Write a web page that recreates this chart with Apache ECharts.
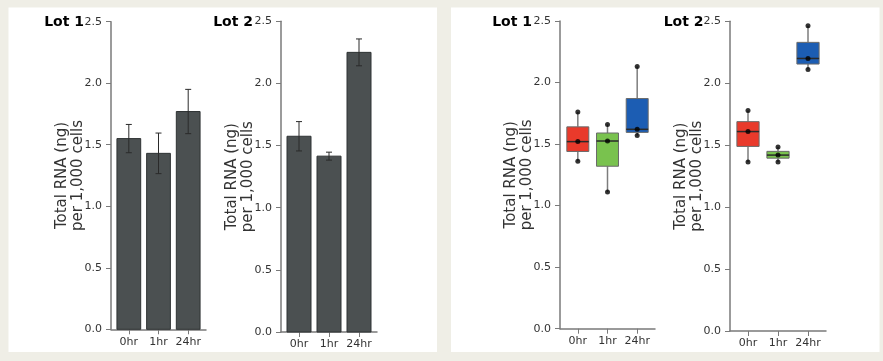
<!DOCTYPE html>
<html>
<head>
<meta charset="utf-8">
<script src="https://cdn.jsdelivr.net/npm/echarts@6/dist/echarts.min.js"></script>
<style>
html,body{margin:0;padding:0;background:#efeee6;}
#c{width:883px;height:361px;}
</style>
</head>
<body>
<div id="c"></div>
<script>
// ---- data ----
const categories = ['0hr', '1hr', '24hr'];
const lot1Mean = [1.55, 1.43, 1.77];
const lot1Err = [0.115, 0.165, 0.18];
const lot2Mean = [1.575, 1.415, 2.25];
const lot2Err = [0.118, 0.032, 0.108];
// box: [min, q1, median, q3, max]
const lot1Box = [[1.36, 1.44, 1.52, 1.64, 1.76], [1.11, 1.32, 1.525, 1.59, 1.66], [1.57, 1.595, 1.62, 1.87, 2.13]];
const lot2Box = [[1.365, 1.49, 1.61, 1.69, 1.78], [1.365, 1.395, 1.42, 1.45, 1.485], [2.11, 2.155, 2.20, 2.33, 2.465]];
const yTicks = [0, 0.5, 1.0, 1.5, 2.0, 2.5];
const titles = ['Lot 1', 'Lot 2', 'Lot 1', 'Lot 2'];
const yName = 'Total RNA (ng)\nper 1,000 cells';

// ---- styles ----
const boxColors = ['#e93a2b', '#79c24e', '#1c5db3'];
const FONT = 'DejaVu Sans';
const grids = [
  {left: 111, top: 21.7, width: 95, height: 307.6},
  {left: 281, top: 21.3, width: 96, height: 310.7},
  {left: 560, top: 21, width: 95, height: 307.7},
  {left: 730, top: 21.3, width: 96, height: 309.7}
];
const titleRight = [84, 253, 532, 703.5];

const chart = echarts.init(document.getElementById('c'), null, {renderer: 'canvas'});

const xAxes = grids.map((g, i) => ({
  type: 'value', gridIndex: i, min: -0.6, max: 2.6,
  splitLine: {show: false},
  axisLine: {show: true, onZero: false, lineStyle: {color: '#7a7a7a', width: 1.5}},
  axisTick: {show: true, length: 5, lineStyle: {color: '#7a7a7a', width: 1}, customValues: [0, 1, 2]},
  axisLabel: {customValues: [0, 1, 2], formatter: v => categories[Math.round(v)], color: '#333', fontFamily: FONT, fontSize: 11, margin: 7}
}));
const yAxes = grids.map((g, i) => ({
  type: 'value', gridIndex: i, min: yTicks[0], max: yTicks[yTicks.length - 1], interval: 0.5,
  splitLine: {show: false},
  axisLine: {show: true, onZero: false, lineStyle: {color: '#7a7a7a', width: 1.5}},
  axisTick: {show: true, length: 5, lineStyle: {color: '#7a7a7a', width: 1}},
  axisLabel: {formatter: v => v.toFixed(1), color: '#333', fontFamily: FONT, fontSize: 11, margin: 9},
  name: yName, nameLocation: 'middle', nameGap: 25, nameRotate: 90, nameMoveOverlap: false,
  nameTextStyle: {fontFamily: FONT, fontSize: 15, lineHeight: 16, color: '#333'}
}));

function barSeries(means, errs, idx) {
  return {
    type: 'custom', xAxisIndex: idx, yAxisIndex: idx,
    data: means.map((m, i) => [i, m, errs[i]]),
    renderItem: (params, api) => {
      const x = api.value(0), y = api.value(1), e = api.value(2);
      const tl = api.coord([x - 0.4, y]);
      const br = api.coord([x + 0.4, 0]);
      const et = api.coord([x, y + e]);
      const eb = api.coord([x, y - e]);
      const cap = 3;
      return {type: 'group', children: [
        {type: 'rect', shape: {x: tl[0], y: tl[1], width: br[0] - tl[0], height: br[1] - tl[1]},
         style: {fill: '#4b5051', stroke: '#2f3334', lineWidth: 1}},
        {type: 'line', shape: {x1: et[0], y1: et[1], x2: eb[0], y2: eb[1]}, style: {stroke: '#2a2a2a', lineWidth: 1}},
        {type: 'line', shape: {x1: et[0] - cap, y1: et[1], x2: et[0] + cap, y2: et[1]}, style: {stroke: '#2a2a2a', lineWidth: 1}},
        {type: 'line', shape: {x1: eb[0] - cap, y1: eb[1], x2: eb[0] + cap, y2: eb[1]}, style: {stroke: '#2a2a2a', lineWidth: 1}}
      ]};
    }
  };
}

function boxSeries(boxes, idx) {
  return {
    type: 'custom', xAxisIndex: idx, yAxisIndex: idx,
    data: boxes.map((b, i) => [i].concat(b)),
    renderItem: (params, api) => {
      const x = api.value(0);
      const mn = api.coord([x, api.value(1)]);
      const q1 = api.coord([x - 0.37, api.value(2)]);
      const md = api.coord([x, api.value(3)]);
      const q3 = api.coord([x + 0.37, api.value(4)]);
      const mx = api.coord([x, api.value(5)]);
      const c = boxColors[params.dataIndex];
      return {type: 'group', children: [
        {type: 'line', shape: {x1: mx[0], y1: mx[1], x2: mx[0], y2: q3[1]}, style: {stroke: '#7d7d7d', lineWidth: 1.5}},
        {type: 'line', shape: {x1: mn[0], y1: q1[1], x2: mn[0], y2: mn[1]}, style: {stroke: '#7d7d7d', lineWidth: 1.5}},
        {type: 'rect', shape: {x: q1[0], y: q3[1], width: q3[0] - q1[0], height: q1[1] - q3[1]},
         style: {fill: c, stroke: '#6a6a6a', lineWidth: 1}},
        {type: 'line', shape: {x1: q1[0], y1: md[1], x2: q3[0], y2: md[1]}, style: {stroke: '#2a2a2a', lineWidth: 1.5}}
      ]};
    }
  };
}

function dotSeries(boxes, idx) {
  const pts = [];
  boxes.forEach((b, i) => { pts.push([i, b[0]], [i, b[2]], [i, b[4]]); });
  return {type: 'scatter', xAxisIndex: idx, yAxisIndex: idx, data: pts, symbolSize: 5,
    itemStyle: {color: '#000'}, z: 5};
}

const graphics = [
  {type: 'rect', shape: {x: 8.5, y: 7.5, width: 428.5, height: 344.5}, style: {fill: '#ffffff'}, z: -10},
  {type: 'rect', shape: {x: 451, y: 7.5, width: 428.5, height: 344.5}, style: {fill: '#ffffff'}, z: -10}
];
titles.forEach((t, i) => {
  graphics.push({type: 'text', x: titleRight[i], y: 22,
    style: {text: t, align: 'right', verticalAlign: 'middle', font: 'bold 14px "DejaVu Sans"', fill: '#000'}});
});

chart.setOption({
  backgroundColor: '#efeee6',
  animation: false,
  grid: grids.map(g => Object.assign({containLabel: false}, g)),
  xAxis: xAxes,
  yAxis: yAxes,
  graphic: graphics,
  series: [
    barSeries(lot1Mean, lot1Err, 0),
    barSeries(lot2Mean, lot2Err, 1),
    boxSeries(lot1Box, 2),
    boxSeries(lot2Box, 3),
    dotSeries(lot1Box, 2),
    dotSeries(lot2Box, 3)
  ]
});
</script>
</body>
</html>
